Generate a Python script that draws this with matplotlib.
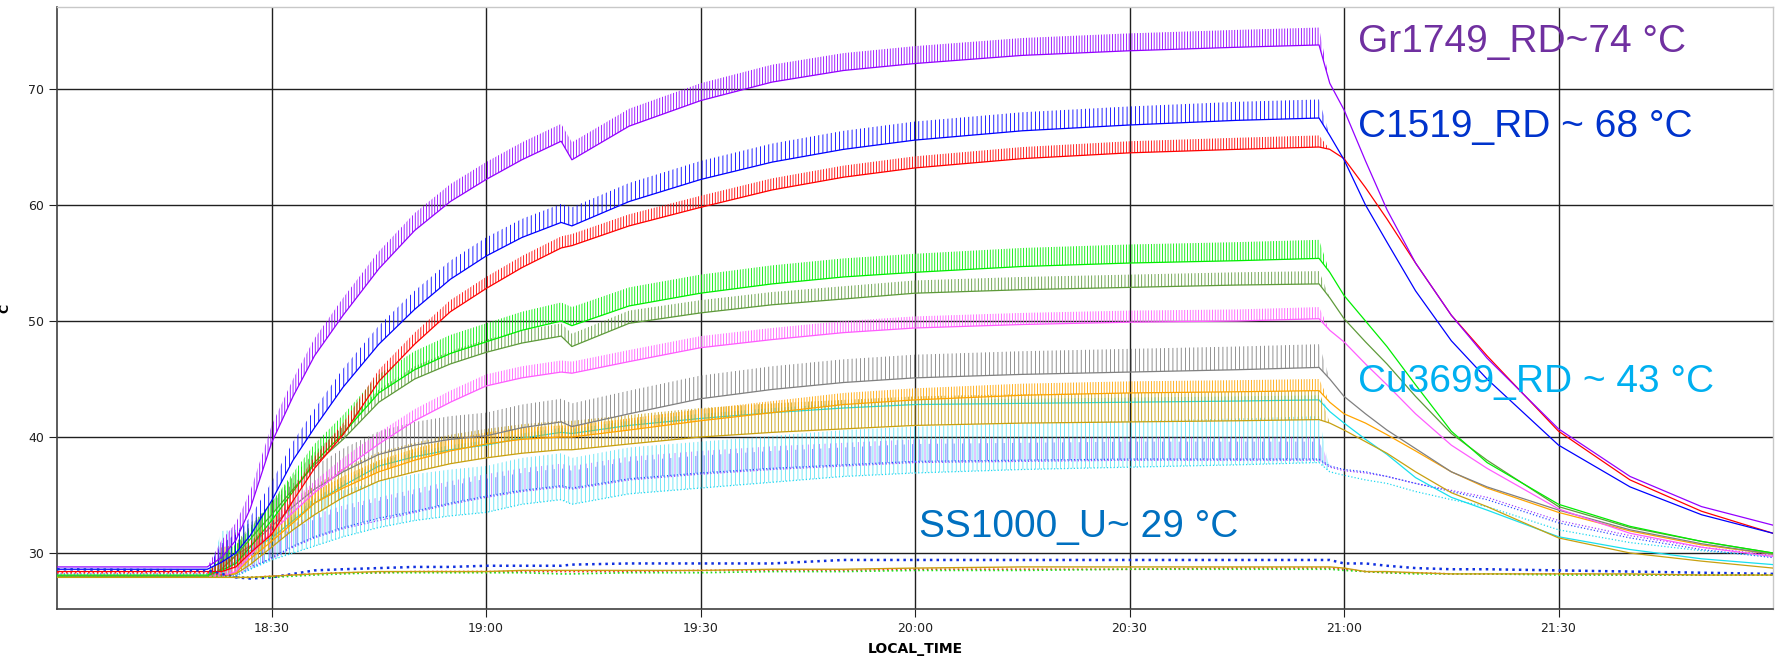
import numpy as np
import matplotlib.pyplot as plt
from matplotlib.colors import to_rgba
from matplotlib.ticker import FixedLocator, FuncFormatter

plt.rcParams['hatch.linewidth'] = 0.6

# minutes after 18:00
TIME = [0, 21, 23, 25, 27, 30, 33, 36, 40, 45, 50, 55, 60, 65, 70.5, 72, 80, 90, 100, 110,
        120, 135, 150, 165, 176.5, 178, 180, 183, 186, 190, 195, 200, 210, 220, 230, 240]
HEAT_ON = 23
HEAT_OFF = 176.5

# lower edge of each trace (the sawtooth rides on top of it)
GR1749 = [28.8, 28.8, 29.6, 31.1, 33.8, 39.5, 43.5, 47.0, 50.5, 54.5, 57.8, 60.3, 62.2, 63.9, 65.5, 63.9, 66.8, 69.0, 70.6, 71.6,
          72.2, 72.9, 73.3, 73.6, 73.8, 70.5, 68.2, 63.8, 59.6, 55.0, 50.5, 46.8, 40.7, 36.6, 34.0, 32.4]
C1519 = [28.6, 28.6, 29.2, 30.0, 31.5, 34.5, 38.0, 40.8, 44.3, 48.0, 51.0, 53.6, 55.6, 57.2, 58.5, 58.2, 60.3, 62.2, 63.7, 64.8,
         65.6, 66.4, 66.9, 67.3, 67.5, 66.0, 63.9, 60.0, 56.8, 52.6, 48.3, 45.0, 39.3, 35.7, 33.3, 31.7]
RED = [28.4, 28.4, 28.4, 28.8, 30.0, 31.6, 34.5, 37.3, 40.2, 44.8, 48.0, 50.8, 52.8, 54.6, 56.3, 56.5, 58.2, 59.8, 61.3, 62.4,
       63.2, 64.0, 64.5, 64.8, 65.0, 64.8, 64.0, 61.5, 58.8, 55.0, 50.5, 47.0, 40.5, 36.3, 33.6, 31.7]
GREEN = [28.1, 28.1, 28.5, 29.1, 30.5, 32.8, 35.3, 37.8, 40.3, 43.8, 45.8, 47.2, 48.2, 49.2, 50.0, 49.6, 51.3, 52.4, 53.2, 53.8,
         54.2, 54.7, 55.0, 55.2, 55.4, 54.2, 52.2, 50.0, 47.8, 44.5, 40.5, 37.8, 34.2, 32.3, 31.0, 30.0]
OLIVE = [28.0, 28.0, 28.6, 29.8, 31.2, 33.3, 35.5, 37.6, 39.8, 43.0, 45.0, 46.3, 47.3, 48.1, 48.7, 47.8, 49.8, 50.7, 51.4, 51.9,
         52.4, 52.7, 52.9, 53.1, 53.2, 52.0, 50.2, 48.2, 46.3, 43.5, 40.3, 38.0, 34.0, 32.2, 31.0, 30.0]
PINK = [28.0, 28.0, 28.0, 28.4, 29.8, 31.8, 33.5, 35.2, 37.2, 39.4, 41.4, 43.0, 44.4, 45.1, 45.6, 45.5, 46.5, 47.7, 48.4, 49.0,
        49.4, 49.7, 49.9, 50.0, 50.2, 49.2, 48.2, 46.3, 44.5, 42.0, 39.3, 37.3, 33.8, 31.7, 30.5, 29.7]
GRAY = [28.0, 28.0, 28.6, 29.8, 30.6, 32.3, 34.0, 35.5, 37.0, 38.5, 39.3, 39.8, 40.1, 40.8, 41.3, 40.9, 42.0, 43.3, 44.1, 44.7,
        45.1, 45.4, 45.6, 45.8, 46.0, 45.0, 43.5, 42.0, 40.6, 39.0, 37.0, 35.7, 33.7, 32.0, 30.8, 29.9]
ORANGE = [28.0, 28.0, 28.0, 28.3, 29.5, 31.0, 32.6, 34.3, 35.6, 37.0, 38.0, 38.8, 39.4, 39.8, 40.0, 40.0, 40.6, 41.4, 42.1, 42.8,
          43.2, 43.6, 43.8, 43.9, 44.0, 43.0, 42.0, 41.2, 40.2, 38.8, 37.0, 35.6, 33.5, 31.9, 30.7, 29.9]
GOLD = [28.0, 28.0, 28.0, 28.2, 29.0, 30.5, 32.0, 33.3, 34.8, 36.2, 37.0, 37.7, 38.2, 38.6, 38.9, 38.9, 39.4, 40.0, 40.4, 40.7,
        41.0, 41.2, 41.3, 41.4, 41.5, 41.2, 40.6, 39.6, 38.6, 37.0, 35.2, 34.0, 31.3, 30.0, 29.3, 28.7]
CU3699 = [28.0, 28.0, 28.2, 29.3, 30.2, 31.3, 32.8, 34.3, 35.8, 37.5, 38.3, 38.9, 39.3, 39.9, 40.4, 40.3, 41.0, 41.6, 42.1, 42.5,
          42.8, 42.9, 43.0, 43.1, 43.2, 42.2, 41.2, 39.8, 38.5, 36.5, 34.8, 33.7, 31.4, 30.3, 29.5, 29.0]
CYAN_DOT = [27.9, 27.9, 27.9, 28.0, 28.6, 29.4, 30.0, 30.6, 31.4, 32.2, 32.8, 33.2, 33.5, 34.2, 34.6, 34.2, 35.1, 35.6, 36.1, 36.6,
            36.9, 37.2, 37.4, 37.6, 37.8, 37.0, 36.7, 36.3, 36.0, 35.3, 34.6, 34.0, 32.0, 30.9, 30.2, 29.7]
PURPLE_DOT = [28.0, 28.0, 28.0, 28.0, 28.8, 29.5, 30.5, 31.3, 32.1, 32.8, 33.5, 34.2, 34.8, 35.3, 35.7, 35.5, 36.3, 36.8, 37.2, 37.5,
              37.8, 37.9, 38.0, 38.0, 38.0, 37.4, 37.1, 36.9, 36.6, 36.0, 35.4, 34.8, 32.8, 31.5, 30.5, 29.8]
BLUE_DOT = [28.2, 28.2, 28.1, 28.0, 28.6, 29.6, 30.6, 31.4, 32.2, 33.0, 33.6, 34.3, 34.9, 35.4, 35.8, 35.6, 36.4, 36.9, 37.3, 37.6,
            37.9, 38.0, 38.1, 38.1, 38.1, 37.5, 37.2, 37.0, 36.6, 36.0, 35.3, 34.6, 32.6, 31.3, 30.3, 29.6]
SS1000 = [28.6, 28.5, 28.2, 27.9, 27.8, 27.9, 28.2, 28.5, 28.6, 28.7, 28.8, 28.8, 28.9, 28.9, 28.9, 29.0, 29.1, 29.1, 29.1, 29.4,
          29.4, 29.4, 29.4, 29.4, 29.4, 29.4, 29.1, 29.1, 28.9, 28.7, 28.6, 28.6, 28.5, 28.4, 28.3, 28.2]
RED_LOW = [28.3, 28.3, 28.1, 27.9, 27.9, 28.0, 28.1, 28.2, 28.3, 28.3, 28.4, 28.4, 28.4, 28.4, 28.4, 28.4, 28.4, 28.5, 28.5, 28.5,
           28.6, 28.6, 28.6, 28.7, 28.7, 28.7, 28.6, 28.4, 28.3, 28.3, 28.2, 28.2, 28.2, 28.1, 28.1, 28.1]
GREEN_LOW = [28.0, 28.0, 28.0, 27.9, 27.9, 27.9, 28.0, 28.1, 28.2, 28.3, 28.3, 28.3, 28.3, 28.3, 28.2, 28.2, 28.3, 28.3, 28.4, 28.4,
             28.5, 28.5, 28.6, 28.6, 28.6, 28.6, 28.5, 28.4, 28.3, 28.2, 28.2, 28.2, 28.1, 28.1, 28.1, 28.1]
GOLD_LOW = [27.9, 27.9, 27.9, 27.9, 27.9, 28.0, 28.1, 28.2, 28.3, 28.4, 28.4, 28.4, 28.4, 28.5, 28.5, 28.5, 28.5, 28.5, 28.6, 28.6,
            28.7, 28.8, 28.8, 28.8, 28.8, 28.8, 28.7, 28.4, 28.4, 28.3, 28.2, 28.2, 28.2, 28.2, 28.1, 28.1]

# peak-to-peak height of the heater sawtooth, same order as TRACES below
SWING = [2.0, 1.5, 4.0, 0.4, 2.5, 1.0, 2.0, 1.0, 1.1, 1.6, 1.0, 1.6, 1.5, 0, 0, 0, 0]

# (values, colour, linestyle, linewidth, hatch, hatch alpha)
TRACES = [
    (PURPLE_DOT, '#a040ff', ':', 0.9, '|||', 0.7),
    (BLUE_DOT, '#3050ff', ':', 0.9, '||', 0.7),
    (CYAN_DOT, '#20d8f0', ':', 0.9, '||||', 0.7),
    (CU3699, '#18e0ee', '-', 0.9, '|||||', 1.0),
    (GOLD, '#c8a010', '-', 0.9, '|||||', 1.0),
    (ORANGE, '#ffa500', '-', 0.9, '||||||', 1.0),
    (GRAY, '#808080', '-', 0.9, '||||', 1.0),
    (PINK, '#ff5cff', '-', 0.9, '||||||', 1.0),
    (OLIVE, '#5e9a3a', '-', 0.9, '|||||', 1.0),
    (GREEN, '#00ee00', '-', 0.9, '||||||', 1.0),
    (RED, '#ff0000', '-', 0.9, '||||||', 1.0),
    (C1519, '#0000ff', '-', 0.9, '||||', 1.0),
    (GR1749, '#9400ff', '-', 0.9, '||||||', 1.0),
    (SS1000, '#1030e0', ':', 1.8, None, 1.0),
    (RED_LOW, '#ff2020', ':', 1.2, None, 1.0),
    (GREEN_LOW, '#20e020', ':', 1.2, None, 1.0),
    (GOLD_LOW, '#c8a010', '-', 1.0, None, 1.0),
]

fig, ax = plt.subplots(figsize=(17.85, 6.63), dpi=100)
fig.subplots_adjust(left=0.032, right=0.9933, bottom=0.0814, top=0.9894)

t = np.array(TIME)
on = ((t >= HEAT_ON) & (t <= HEAT_OFF)).astype(float)
for (vals, color, ls, lw, hatch, halpha), swing in zip(TRACES, SWING):
    lo = np.array(vals)
    ax.plot(t, lo, color=color, lw=lw, ls=ls, zorder=3)
    if swing:
        ax.fill_between(t, lo, lo + swing * on, facecolor='none',
                        edgecolor=to_rgba(color, halpha), hatch=hatch,
                        linewidth=0, zorder=3)

ax.set_xlim(0, 240)
ax.set_ylim(25.17, 77.07)
ax.xaxis.set_major_locator(FixedLocator([30, 60, 90, 120, 150, 180, 210]))
ax.xaxis.set_major_formatter(FuncFormatter(lambda m, p: '%d:%02d' % (18 + int(m) // 60, int(m) % 60)))
ax.yaxis.set_major_locator(FixedLocator([30, 40, 50, 60, 70]))
ax.grid(True, color='#202020', lw=1.0)
ax.set_axisbelow(True)
ax.tick_params(labelsize=9, length=6, color='#202020', labelcolor='#202020')

for side in ['left', 'bottom']:
    ax.spines[side].set_color('#404040')
    ax.spines[side].set_linewidth(1.2)
for side in ['top', 'right']:
    ax.spines[side].set_color('#c8c8c8')
    ax.spines[side].set_linewidth(1.0)

ax.set_xlabel('LOCAL_TIME', fontsize=10, fontweight='bold', labelpad=5)
ax.set_ylabel('C', fontsize=9, fontweight='bold', labelpad=12)

font = dict(family='Liberation Sans', fontsize=28, va='baseline', zorder=5)
ax.text(182, 73.2, 'Gr1749_RD~74 °C', color='#7030a0', **font)
ax.text(182, 65.9, 'C1519_RD ~ 68 °C', color='#0033cc', **font)
ax.text(182, 43.9, 'Cu3699_RD ~ 43 °C', color='#00b0f0', **font)
ax.text(120.5, 31.4, 'SS1000_U~ 29 °C', color='#0070c0', **font)

fig.savefig('out.png', dpi=100)
